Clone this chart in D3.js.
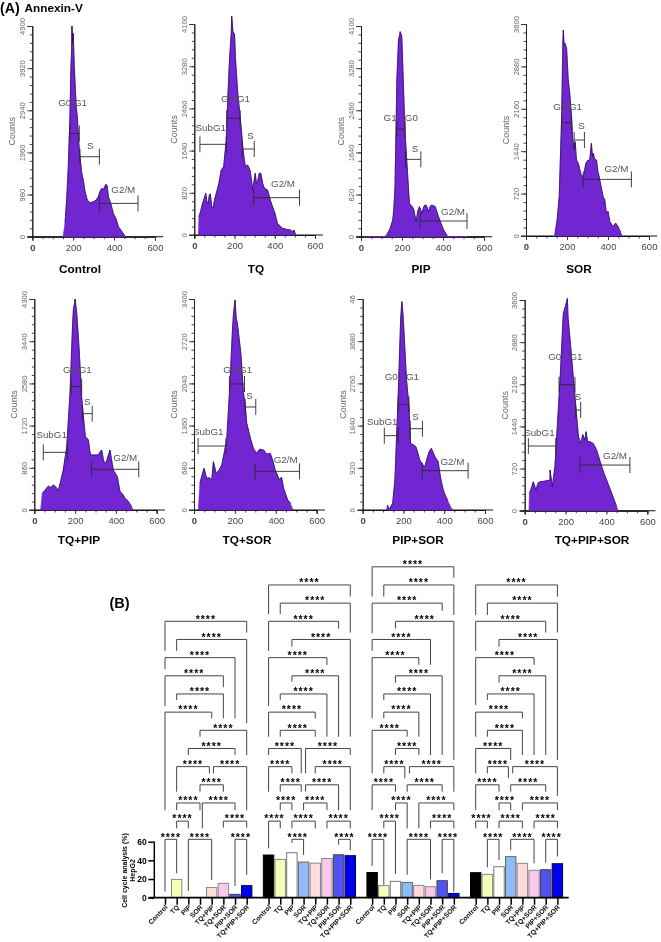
<!DOCTYPE html>
<html><head><meta charset="utf-8">
<script src="https://cdn.jsdelivr.net/npm/d3@7"></script>
<style>
html,body{margin:0;padding:0;background:#fff}
svg{display:block;font-family:"Liberation Sans",Arial,sans-serif}
</style></head><body>
<svg id="c" width="661" height="942"></svg>
<script>
// ---- Panel A: flow cytometry histograms (DNA content, counts) ----
const titles = ["Control","TQ","PIP","SOR","TQ+PIP","TQ+SOR","PIP+SOR","TQ+PIP+SOR"];
const yMaxes = [4900,4100,4100,3600,4300,3400,4600,3600];
const yTopLabels = ["4900","4100","4100","3600","4300","3400","46","3600"];
const xTicks = [0,200,400,600];

const controlX = [150,160,168,176,184,189,192,194,197,200,205,209,215,220,227,233,241,249,258,269,283,298,312,323,331,339,348,360,366,372,385,396,409,421,438,453];
const controlC = [0,310,850,1630,2790,3950,4300,4900,4500,4730,4000,3570,3000,2790,2200,1860,1500,1320,1050,850,790,810,850,930,1050,1120,1100,1220,1180,930,750,540,420,230,120,15];
const tqX = [20,23,31,39,48,57,63,69,75,80,86,93,101,110,122,134,146,159,167,175,184,186,192,200,205,216,228,241,247,254,265,277,283,290,303,309,315,323,331,340,348,364,376,389,401,413,438,458,479,487,495,503];
const tqC = [0,356,450,583,700,810,640,615,780,797,560,518,690,822,1000,1263,1328,1846,2700,3400,3950,4250,3950,3900,3400,2750,2300,1716,1500,1328,1360,1263,1100,874,1198,1000,1036,1200,1198,1000,907,874,700,550,420,227,130,110,97,60,97,13];
const pipX = [15,60,110,125,142,155,160,166,175,183,187,191,195,199,207,215,227,236,246,256,269,277,285,297,308,318,329,337,346,362,378,390,403,419,427,515];
const pipC = [0,0,0,30,160,325,520,973,3050,3830,3900,3990,3950,3890,2920,2010,1233,650,600,550,292,500,584,454,600,616,487,590,616,584,389,260,130,32,0,0];
const sorX = [141,152,162,174,180,182,186,190,198,206,214,222,228,234,240,246,255,271,282,292,300,311,319,324,328,336,344,350,357,366,376,384,392,400,409,425,437,449,458,465];
const sorC = [17,272,668,2026,3300,3498,3250,3271,3186,2649,2400,2026,1650,1460,1600,1290,1234,1007,1036,1234,1280,1290,1573,1350,1403,1300,1290,1100,1007,840,668,620,385,420,243,158,220,158,90,17];
const tqPipX = [31,39,50,69,80,93,105,118,130,142,159,175,188,192,196,200,208,219,232,244,250,265,272,276,295,314,322,330,340,351,362,371,387,407,420,432,445,460,477,485];
const tqPipC = [0,340,390,489,460,510,470,394,600,815,1290,2378,3804,4100,4178,4300,4008,3329,2310,1766,1500,1427,1200,1121,1121,1121,1180,1223,1000,951,1100,1223,815,679,374,330,238,180,68,0];
const tqSorX = [21,29,40,49,62,75,87,95,108,122,136,160,177,188,194,201,206,212,229,242,250,258,278,290,304,322,340,356,373,385,397,418,428,438,458,470,484];
const tqSorC = [0,430,570,671,510,520,483,779,591,640,725,1128,2095,2900,3200,3383,3100,3008,2524,1880,1700,1396,1128,1000,913,980,967,900,913,800,644,483,530,349,161,120,0];
const pipSorX = [117,121,130,147,158,174,186,192,197,202,215,227,235,248,261,270,280,292,305,316,326,337,346,354,370,382,395,407,419,440];
const pipSorC = [0,109,15,145,654,2471,4142,4542,4300,3924,2834,2253,1453,1420,1381,1250,1090,1000,945,1130,1272,1344,1250,1163,1054,700,436,300,182,0];
const triX = [21,23,32,42,55,65,75,90,105,124,124,135,148,173,189,200,209,212,225,246,263,274,284,295,300,308,320,335,352,377,390,401,426,450,458];
const triC = [0,296,380,495,353,470,495,500,510,524,695,410,752,2232,3371,3500,3627,3300,2802,1948,1264,1150,1300,1207,1350,1180,1179,1150,1036,752,620,524,296,68,0];

// gate: name, from, to, level, label x, label y (histogram units)
const controlGates = [["G0/G1",184,230,2400,197,3116],["S",233,328,1860,283,2116],["G2/M",328,517,775,445,1100]];
const tqGates = [["SubG1",28,159,1762,82,2092],["G0/G1",161,228,2267,205,2662],["S",238,298,1671,279,1924],["G2/M",295,523,725,441,1004]];
const pipGates = [["G1 / G0",175,215,2096,194,2323],["S",217,292,1505,264,1707],["G2/M",289,517,305,449,487]];
const sorGates = [["G0/G1",174,222,1924,203,2207],["S",235,285,1630,271,1868],["G2/M",279,514,962,441,1138]];
const tqPipGates = [["SubG1",44,163,1175,85,1542],["G0/G1",180,232,2514,211,2867],["S",235,284,1963,260,2221],["G2/M",281,512,829,446,1073]];
const tqSorGates = [["SubG1",20,156,1031,70,1257],["G0/G1",173,247,2030,214,2261],["S",250,302,1660,271,1853],["G2/M",299,516,623,448,816]];
const pipSorGates = [["SubG1",106,174,1620,96,1926],["G0 / G1",174,227,2304,192,2914],["S",233,293,1773,259,2035],["G2/M",292,517,857,440,1054]];
const triGates = [["SubG1",18,152,1105,72,1344],["G0 / G1",168,246,2153,199,2631],["S",249,274,1720,261,1948],["G2/M",271,515,780,442,940]];

// ---- Panel B: cell cycle bars ----
const categories = ["Control","TQ","PIP","SOR","TQ+PIP","TQ+SOR","PIP+SOR","TQ+PIP+SOR"];
const subG1Values = [0,19.6,0,0,11,15.4,3.6,12.9];
const g0g1Values = [45.7,41,48.2,38.2,37,42,46,45];
const sValues = [27,13,17.5,16.4,13.2,11.8,18.2,4.6];
const g2mValues = [26.8,25,33.2,44,36.8,29.3,30,36.4];
const barFills = ["#000000","#f4ffb8","#ffffff","#8fbcf9","#ffdcdc","#f9c8ec","#5252f2","#0000ee"];
const barStrokes = ["#000000","#888888","#777777","#666666","#888888","#888888","#444444","#000044"];
const yBarTicks = [0,20,40,60];

// bracket: from, to, level, left arm end, right arm end (category index / stacking level)
const bracketsA = [[0,1,0,-2.88,-1.87],[2,4,0,-2.84,-2.24],[6,7,0,-2.57,-1.96],[1,2,1,.6,.6],[5,7,1,.64,.64],[1,3,2,1.6,1.6],[3.2,6,2,.6,1.6],[3,5,3,2.62,2.62],[1,3.8,4,2.62,3.63],[4.15,7,4,3.63,1.6],[2,6,5,4.64,4.64],[3,7,6,5.65,4.64],[0,4,7,1.6,6.66],[1,5,8,7.67,6.66],[0,5,9,7.34,8.37],[0,6,10,9.36,6.66],[1,7,11,10.37,6.39],[0,7,12,10.37,11.38]];
const bracketsB = [[2,3,0,-.2,-.86],[6,7,0,-.3,-.6],[0,1,1,-.5,.6],[2,4,1,.6,.6],[5,7,1,.6,.6],[1,2,2,1.6,1.6],[3,5,2,1.6,1.6],[1,2.8,3,2.62,2.62],[3.17,6,3,2.62,1.6],[0,2,4,2.62,3.63],[4,7,4,3.63,1.6],[0,2.8,5,4.64,3.63],[3.17,7,5,3.63,4.64],[1,4,6,5.65,5.65],[0,4,7,5.65,6.66],[1,5,8,7.67,5.65],[2,6,9,8.68,5.65],[0,5,10,7.34,9.6],[2,7,11,10.6,5.65],[0,6,12,10.37,11.6],[1,7,13,12.4,11.38],[0,7,14,12.4,13.36]];
const bracketsC = [[0,1,0,-1.47,-2.5],[3,5,0,-1.96,-2.2],[6,7,0,-1.87,-2.88],[1,2,1,.6,-1.9],[5,7,1,.6,.6],[2,3,2,1.6,.6],[4,7,2,.6,1.6],[0,2,3,1.6,2.62],[3,6,3,2.62,2.62],[1,2.8,4,3.63,3.36],[3.2,7,4,3.63,2.62],[2,4,5,4.64,4.64],[0,3,6,3.63,5.65],[1,4,7,6.66,5.65],[1,5,8,7.67,4.64],[2,6,9,8.62,4.64],[0,4,10,6.66,9.6],[0,5,11,10.37,9.6],[2,7,12,11.6,4.37],[0,6,13,11.34,12.57],[1,7,14,13.36,12.35],[0,7,15,13.36,14.4]];
const bracketsD = [[1,2,0,-1.54,-1.14],[3,5,0,-.6,-1.32],[6,7,0,-1.28,-.95],[0,1,1,.6,.6],[2,4,1,.6,.6],[5,7,1,.6,.6],[2,3,2,1.6,1.6],[4,7,2,1.6,1.6],[0,2,3,1.6,2.62],[3,6,3,2.62,2.62],[1,2.8,4,3.63,3.36],[3.17,7,4,3.63,2.39],[0,3,5,3.63,4.37],[1,4,6,5.65,4.64],[0,4,7,5.65,6.66],[1,5,8,7.67,4.64],[2,6,9,8.62,4.64],[0,5,10,7.39,9.6],[2,7,11,10.6,4.37],[0,6,12,10.37,11.38],[1,7,13,12.35,11.38],[0,7,14,12.35,13.36]];

// ---- Layout ----
const layouts = [
 {x0:32.3,x6:155,y0:236.7,yT:26},{x0:194.3,x6:315,y0:235,yT:24},
 {x0:361,x6:484,y0:236.7,yT:26},{x0:526,x6:649,y0:236,yT:24},
 {x0:34.3,x6:156.7,y0:510,yT:299},{x0:194,x6:316.7,y0:510,yT:299},
 {x0:362.7,x6:485,y0:510,yT:299},{x0:524.7,x6:647.3,y0:510.7,yT:300}];
const titlePos = [[80,273],[256,273],[421,273],[579,273],[79,544],[247,544],[418,544],[592,544]];
const xSeries = [controlX,tqX,pipX,sorX,tqPipX,tqSorX,pipSorX,triX];
const cSeries = [controlC,tqC,pipC,sorC,tqPipC,tqSorC,pipSorC,triC];
const gateSeries = [controlGates,tqGates,pipGates,sorGates,tqPipGates,tqSorGates,pipSorGates,triGates];

const svg = d3.select("#c");
const defs = svg.append("defs");
defs.append("filter").attr("id","soft").attr("x","-5%").attr("y","-5%").attr("width","110%").attr("height","110%")
  .append("feGaussianBlur").attr("stdDeviation",0.3);

const histRoot = svg.append("g").attr("filter","url(#soft)");
layouts.forEach((L,k)=>{
  const g = histRoot.append("g");
  const x = d3.scaleLinear().domain([0,600]).range([L.x0,L.x6]);
  const y = d3.scaleLinear().domain([0,yMaxes[k]]).range([L.y0,L.yT]);
  const major = d3.range(0,6).map(i=>yMaxes[k]*i/5);
  const minor = d3.range(0,26).map(i=>yMaxes[k]*i/25);

  // axes
  const xA = g.append("g").attr("transform",`translate(0,${L.y0})`);
  xA.call(d3.axisBottom(x).tickValues(d3.range(0,650,50)).tickSize(2.5).tickFormat(""));
  const xB = g.append("g").attr("transform",`translate(0,${L.y0})`);
  xB.call(d3.axisBottom(x).tickValues(xTicks).tickSize(4).tickPadding(3.5));
  xB.selectAll("text").attr("font-size",9.5).attr("font-weight",d=>d===0?"bold":"normal").attr("fill","#444");
  g.append("line").attr("x1",L.x0-5).attr("x2",x(640)).attr("y1",L.y0).attr("y2",L.y0).attr("stroke","#111").attr("stroke-width",1.1);

  const yA = g.append("g").attr("transform",`translate(${L.x0},0)`);
  yA.call(d3.axisLeft(y).tickValues(minor).tickSize(2.5).tickFormat(""));
  const yB = g.append("g").attr("transform",`translate(${L.x0},0)`);
  yB.call(d3.axisLeft(y).tickValues(major).tickSize(5).tickFormat(""));
  g.selectAll(".domain").attr("stroke","#222");
  g.selectAll(".tick line").attr("stroke","#333").attr("stroke-width",0.9);
  yB.selectAll(".tick").append("text")
    .attr("transform","rotate(-90)").attr("x",0).attr("y",-7.5)
    .attr("text-anchor","middle").attr("font-size",7.6).attr("fill","#666")
    .text(d=>d===yMaxes[k]?yTopLabels[k]:String(Math.round(d)));
  g.append("text").attr("transform",`translate(${L.x0-17},${y(yMaxes[k]*0.5)}) rotate(-90)`)
    .attr("text-anchor","middle").attr("font-size",9).attr("fill","#666").text("Counts");

  // histogram
  const pts = xSeries[k].map((v,i)=>[v,cSeries[k][i]]);
  g.append("path").datum(pts).attr("fill","#7126d2").attr("stroke","#7126d2").attr("stroke-width",0.6)
    .attr("d",d3.area().x(d=>x(d[0])).y0(L.y0).y1(d=>y(d[1])));
  g.append("path").datum(pts).attr("fill","none").attr("stroke","#2b0f5e").attr("stroke-width",0.8)
    .attr("d",d3.line().defined(d=>d[1]>0).x(d=>x(d[0])).y(d=>y(d[1])));

  // gates
  const gg = g.selectAll(".gate").data(gateSeries[k]).join("g");
  gg.append("path").attr("fill","none").attr("stroke","#2a2a2a").attr("stroke-width",0.9)
    .attr("d",d=>`M${x(d[1])},${y(d[3])-8}V${y(d[3])+8}M${x(d[1])},${y(d[3])}H${x(d[2])}M${x(d[2])},${y(d[3])-8}V${y(d[3])+8}`);
  gg.append("text").attr("x",d=>x(d[4])).attr("y",d=>y(d[5])+3.5).attr("text-anchor","middle")
    .attr("font-size",9.8).attr("fill","#555").text(d=>d[0]);

  svg.append("text").attr("x",titlePos[k][0]).attr("y",titlePos[k][1]).attr("text-anchor","middle")
    .attr("font-size",11.8).attr("font-weight","bold").attr("fill","#000").text(titles[k]);
});

svg.append("text").attr("x",0).attr("y",13).attr("font-size",14.2).attr("font-weight","bold").text("(A)");
svg.append("text").attr("x",24.5).attr("y",12.3).attr("font-size",11.8).attr("font-weight","bold").text("Annexin-V");
svg.append("text").attr("x",109.5).attr("y",608).attr("font-size",14.5).attr("font-weight","bold").text("(B)");

// ---- Bars ----
const groupsData = [subG1Values,g0g1Values,sValues,g2mValues];
const bracketData = [bracketsA,bracketsB,bracketsC,bracketsD];
const gx = d3.scalePoint().domain(d3.range(4)).range([165,475.7]);
const ix = d3.scaleLinear().domain([0,7]).range([0,81.7]);
const barY = d3.scaleLinear().domain([0,60]).range([897.7,841.7]);
const rowY = d3.scaleLinear().domain([0,15]).range([839.3,566.8]);

const barRoot = svg.append("g").attr("filter","url(#soft)");
groupsData.forEach((vals,gi)=>{
  const g = barRoot.append("g");
  const cx = i=>gx(gi)+ix(i);
  g.selectAll("rect").data(vals).join("rect")
    .attr("x",(d,i)=>cx(i)-5.2).attr("width",10.4)
    .attr("y",d=>barY(d)).attr("height",d=>barY(0)-barY(d))
    .attr("fill",(d,i)=>barFills[i]).attr("stroke",(d,i)=>barStrokes[i]).attr("stroke-width",1)
    .attr("display",d=>d>0?null:"none");
  const br = g.selectAll(".br").data(bracketData[gi]).join("g");
  br.append("path").attr("fill","none").attr("stroke","#444").attr("stroke-width",1)
    .attr("d",d=>`M${cx(d[0])},${rowY(d[3])}V${rowY(d[2])}H${cx(d[1])}V${rowY(d[4])}`);
  br.append("text").attr("x",d=>(cx(d[0])+cx(d[1]))/2).attr("y",d=>rowY(d[2])+1.2)
    .attr("text-anchor","middle").attr("font-size",10.5).attr("font-weight","bold")
    .attr("letter-spacing",1).attr("fill","#000").text("****");

  const ax = g.append("g").attr("transform",`translate(0,${barY(0)})`);
  ax.call(d3.axisBottom(d3.scaleLinear().domain([0,7]).range([gx(gi),gx(gi)+81.7])).tickValues(d3.range(8)).tickSize(7).tickFormat(""));
  ax.select(".domain").remove();
  ax.selectAll(".tick line").attr("stroke","#000").attr("stroke-width",1.5);
  ax.selectAll(".tick").append("text")
    .attr("transform","translate(2.5,10) rotate(-46)").attr("text-anchor","end")
    .attr("fill","#111").attr("font-size",6.8).attr("font-weight","bold")
    .text((d,i)=>categories[i]);
});
const yAxG = barRoot.append("g").attr("transform","translate(154.3,0)");
yAxG.call(d3.axisLeft(barY).tickValues(yBarTicks).tickSize(6).tickPadding(1.5));
yAxG.selectAll("text").attr("font-size",8.5).attr("font-weight","bold").attr("fill","#000");
yAxG.selectAll("line").attr("stroke","#000").attr("stroke-width",1.5);
yAxG.select(".domain").attr("stroke","#000").attr("stroke-width",1.5).attr("d",`M0,${barY(60)}V${barY(0)}`);
barRoot.append("line").attr("x1",148.5).attr("x2",568.7).attr("y1",barY(0)).attr("y2",barY(0)).attr("stroke","#000").attr("stroke-width",1.8);
barRoot.append("text").attr("transform","translate(127,870.5) rotate(-90)").attr("text-anchor","middle")
  .attr("font-size",7).attr("font-weight","bold").text("Cell cycle analysis (%)");
barRoot.append("text").attr("transform","translate(135,870.5) rotate(-90)").attr("text-anchor","middle")
  .attr("font-size",7).attr("font-weight","bold").text("HepG2");
</script>
</body></html>
